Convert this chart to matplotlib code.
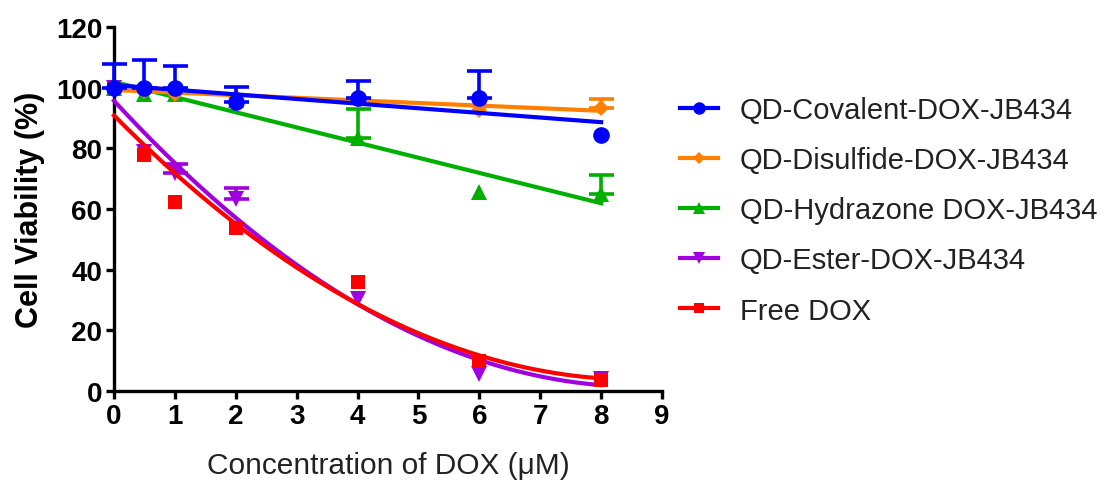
import numpy as np
import matplotlib.pyplot as plt
from matplotlib.lines import Line2D

plt.rcParams['font.family'] = ['Liberation Sans', 'DejaVu Sans']

conc = [0, 0.5, 1, 2, 4, 6, 8]

labels = ['QD-Covalent-DOX-JB434', 'QD-Disulfide-DOX-JB434',
          'QD-Hydrazone DOX-JB434', 'QD-Ester-DOX-JB434', 'Free DOX']

covalent = [100, 100, 100, 95.3, 96.7, 96.6, 84.5]
covalent_err = [7.8, 9, 7, 5, 5.5, 9, 0]
disulfide = [100, 99, 98, 97, 96, 92.8, 93.4]
disulfide_err = [0, 0, 0, 0, 0, 0, 3]
hydrazone = [100, 98, 98, 96, 83.4, 65.6, 64.8]
hydrazone_err = [0, 0, 0, 0, 9.5, 0, 6.5]
ester = [100, 78.8, 72, 63.3, 30.3, 5.6, 3.8]
ester_err = [0, 0, 3, 3.5, 0, 0, 0]
free_dox = [100, 77.8, 62.3, 53.7, 36, 9.9, 3.6]
free_dox_err = [0, 0, 0, 0, 0, 0, 0]

# fit degree: linear for the stable conjugates, quadratic for the fast-killing ones
fit_deg = [1, 1, 1, 2, 2]
colors = ['#0000FF', '#FF7F00', '#00B000', '#A000E0', '#FF0000']
markers = ['o', 'D', '^', 'v', 's']
msizes = [12, 8.5, 11, 11, 10.5]

series = [covalent, disulfide, hydrazone, ester, free_dox]
errs = [covalent_err, disulfide_err, hydrazone_err, ester_err, free_dox_err]

fig = plt.figure(figsize=(11.11, 4.81), dpi=100)
ax = fig.add_axes([114 / 1111, 1 - 392 / 481, (662 - 114) / 1111, (392 - 28) / 481])

xfit = np.linspace(0, 8, 200)
draw_order = [3, 4, 2, 1, 0]
for z, i in enumerate(draw_order):
    x = np.array(conc)
    y = np.array(series[i])
    e = np.array(errs[i])
    coef = np.polyfit(x, y, fit_deg[i])
    yfit = np.clip(np.polyval(coef, xfit), 0, None)
    ax.plot(xfit, yfit, color=colors[i], lw=3, zorder=3 + z, clip_on=False)
    m = e > 0
    if m.any():
        ax.errorbar(x[m], y[m], yerr=[np.zeros(m.sum()), e[m]], fmt='none',
                    ecolor=colors[i], elinewidth=2.6, capsize=9, capthick=2.6,
                    zorder=3 + z, clip_on=False)
    ax.plot(x, y, ls='none', marker=markers[i], color=colors[i], ms=msizes[i],
            mew=0, zorder=3 + z, clip_on=False)

ax.set_xlim(0, 9)
ax.set_ylim(0, 120)
ax.set_xticks(range(0, 10))
ax.set_yticks(range(0, 121, 20))
for s in ['top', 'right']:
    ax.spines[s].set_visible(False)
for s in ['left', 'bottom']:
    ax.spines[s].set_linewidth(2.4)
ax.tick_params(width=2.4, length=5.5, labelsize=20, pad=3)
for t in ax.get_xticklabels() + ax.get_yticklabels():
    t.set_fontweight('bold')

ax.set_xlabel('Concentration of DOX (\u03bcM)', fontsize=21.5, color='#222222', labelpad=16)
ax.set_ylabel('Cell Viability (%)', fontsize=22, fontweight='bold', labelpad=8)

handles = [Line2D([], [], color=colors[i], marker=markers[i], lw=3,
                  ms=msizes[i] * 0.75, mew=0) for i in range(5)]
fig.legend(handles, labels, loc='upper left', bbox_to_anchor=(680 / 1111, 1 - 97 / 481),
           frameon=False, fontsize=21, handlelength=1.3, handletextpad=0.75,
           labelspacing=0.76, labelcolor='#222222', borderaxespad=0, borderpad=0)

fig.savefig('out.png', dpi=100)
